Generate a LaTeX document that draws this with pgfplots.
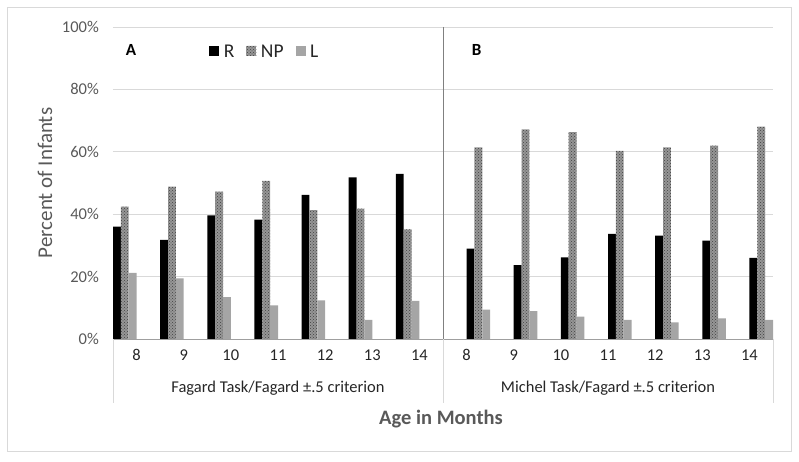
\documentclass[border=0pt]{standalone}
\usepackage{pgfplots}
\pgfplotsset{compat=1.18}
\usepackage{pgfplotstable}
\usepackage{fontspec}
\setmainfont{Carlito}
\usetikzlibrary{patterns}
\definecolor{npgray}{RGB}{150,150,150}
\definecolor{lgray}{RGB}{165,165,165}
\definecolor{txtgray}{RGB}{89,89,89}
\definecolor{gridgray}{RGB}{217,217,217}

\pgfplotstableread{
x R NP L
0 36.0 42.4 21.2
1 31.8 48.8 19.4
2 39.6 47.2 13.4
3 38.3 50.7 10.8
4 46.2 41.3 12.4
5 51.8 41.8 6.1
6 52.9 35.1 12.2
}\leftdata

\pgfplotstableread{
x R NP L
7 29.0 61.4 9.4
8 23.7 67.2 8.9
9 26.2 66.3 7.2
10 33.7 60.3 6.1
11 33.1 61.4 5.3
12 31.5 62.0 6.6
13 26.0 68.1 6.1
}\rightdata

\begin{document}
\begin{tikzpicture}[x=1pt,y=1pt]
\useasboundingbox (-113,-123) rectangle (686,339);
\draw[gridgray, line width=1pt] (-105,-113) rectangle (678,331);
\begin{axis}[
  at={(0,0)}, anchor=south west,
  scale only axis, width=660pt, height=312pt,
  xmin=-0.5, xmax=13.5, ymin=0, ymax=100,
  ybar, bar width=7.857pt,
  clip=false,
  xtick={0,...,13},
  xticklabels={8,9,10,11,12,13,14,8,9,10,11,12,13,14},
  ytick={0,20,...,100},
  yticklabel={\pgfmathprintnumber{\tick}\%},
  /pgf/number format/assume math mode=true,
  ymajorgrids, grid style={gridgray, line width=0.8pt},
  axis line style={draw=none},
  major tick length=0pt,
  tick label style={font=\fontsize{16.5}{19}\selectfont},
  yticklabel style={txtgray, anchor=east, inner sep=0pt, xshift=-14pt},
  xticklabel style={black!85, anchor=center, yshift=-16pt},
  ylabel={Percent of Infants},
  every axis y label/.style={at={(axis description cs:-0.103,0.5)}, rotate=90, anchor=center, font=\fontsize{21}{25}\selectfont, text=txtgray},
  xlabel={\textbf{Age in Months}},
  every axis x label/.style={at={(axis description cs:0.497,-0.255)}, anchor=center, font=\fontsize{20.5}{24}\selectfont, text=txtgray},
  legend style={at={(0.230,0.92)}, anchor=center, draw=none, fill=none, legend columns=3,
    font=\fontsize{19.5}{22}\selectfont, text=black!85, inner sep=1pt,
    /tikz/every odd column/.append style={column sep=2.5pt},
    /tikz/every even column/.append style={column sep=10pt}},
  legend image code/.code={\path[#1, draw=none] (0pt,-4pt) rectangle (10pt,6pt);},
]
\addplot[fill=black, draw=none, bar shift=-19.64pt] table[x=x,y=R]{\leftdata};
\addplot[preaction={fill=npgray}, pattern=crosshatch dots, pattern color=black!75, draw=none, bar shift=-11.786pt] table[x=x,y=NP]{\leftdata};
\addplot[fill=lgray, draw=none, bar shift=-3.93pt] table[x=x,y=L]{\leftdata};
\legend{R,NP,L}
\addplot[fill=black, draw=none, bar shift=3.93pt, forget plot] table[x=x,y=R]{\rightdata};
\addplot[preaction={fill=npgray}, pattern=crosshatch dots, pattern color=black!75, draw=none, bar shift=11.786pt, forget plot] table[x=x,y=NP]{\rightdata};
\addplot[fill=lgray, draw=none, bar shift=19.64pt, forget plot] table[x=x,y=L]{\rightdata};

\draw[gray!75, line width=0.8pt] (axis cs:-0.5,0) -- (axis cs:13.5,0);
\draw[gridgray, line width=0.8pt] (axis cs:-0.5,0) -- ([yshift=-64pt]axis cs:-0.5,0);
\draw[gridgray, line width=0.8pt] (axis cs:13.5,0) -- ([yshift=-64pt]axis cs:13.5,0);
\draw[gray, line width=0.8pt] (axis cs:6.5,100) -- (axis cs:6.5,0);
\draw[gridgray, line width=0.8pt] (axis cs:6.5,0) -- ([yshift=-64pt]axis cs:6.5,0);
\node[font=\fontsize{16.5}{19}\selectfont, text=black!85] at ([yshift=-49pt]axis cs:3,0) {Fagard Task/Fagard ±.5 criterion};
\node[font=\fontsize{16.5}{19}\selectfont, text=black!85] at ([yshift=-49pt]axis cs:10,0) {Michel Task/Fagard ±.5 criterion};
\node[font=\bfseries\fontsize{17}{20}\selectfont] at (axis cs:-0.12,92.6) {A};
\node[font=\bfseries\fontsize{17}{20}\selectfont] at (axis cs:7.215,92.6) {B};
\end{axis}
\end{tikzpicture}
\end{document}
